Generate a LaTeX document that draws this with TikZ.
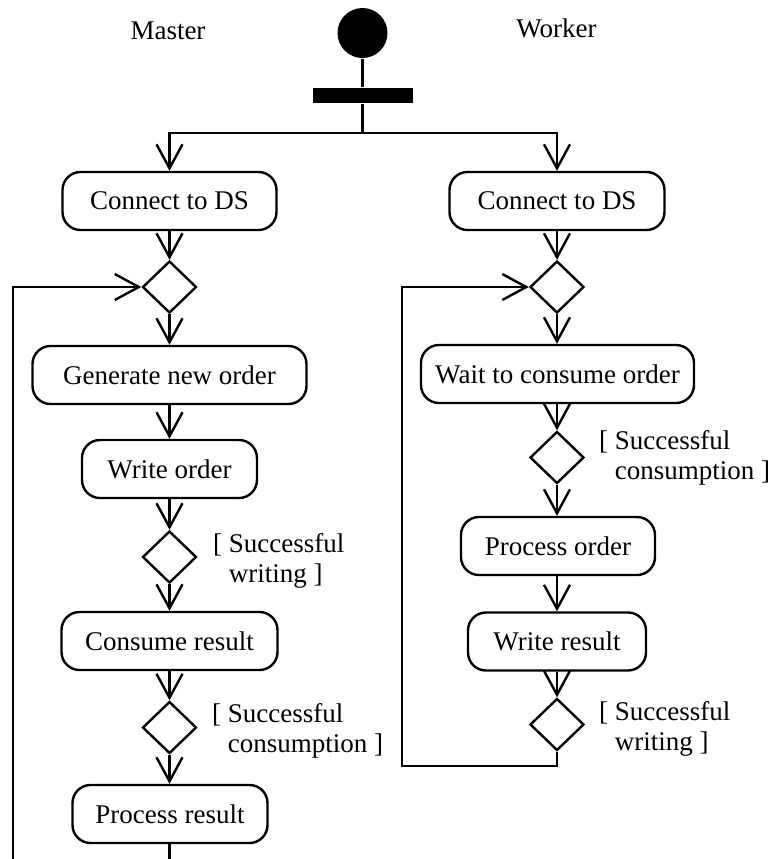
\documentclass[tikz,border=0pt]{standalone}
\usepackage{fontspec}
\setmainfont{Liberation Serif}
\usetikzlibrary{positioning,arrows.meta,shapes.geometric}

\newcommand{\uml}{\fontsize{13.5}{15}\selectfont}

\begin{document}
\begin{tikzpicture}[
      x=0.5pt, y=-0.5pt, line width=1.2pt,
      action/.style={draw, rounded corners=9pt, minimum height=29pt, inner xsep=4pt, font=\uml},
      decision/.style={draw, diamond, minimum width=27pt, minimum height=26pt, inner sep=0pt},
      guard/.style={anchor=west, align=left, inner sep=0pt, font=\uml},
      lane/.style={inner sep=0pt, font=\uml},
      flow/.style={-{Straight Barb[length=12pt, width=13pt]}}
  ]
    \useasboundingbox (0,0) rectangle (772,859);

    % swimlane titles
    \node[lane] (master) at (168,30.5) {Master};
    \node[lane] (worker) at (556.5,28) {Worker};

    % start and fork
    \node[circle, fill=black, minimum size=25pt, inner sep=0pt] (start) at (362.5,33) {};
    \node[fill=black, minimum width=50pt, minimum height=7.5pt, inner sep=0pt] (fork) at (362.5,95.5) {};
    \coordinate (split) at (362.5,133);
    \draw (start) -- (fork);
    \draw (fork) -- (split);

    % master side
    \node[action, minimum width=107pt] (mconn) at (169.5,201) {Connect to DS};
    \node[decision] (mloop) at (169.5,287) {};
    \node[action, minimum width=137pt] (mgen) at (169.5,375) {Generate new order};
    \node[action, minimum width=87.5pt] (mwrite) at (169.5,469) {Write order};
    \node[decision] (mok1) at (169.5,557) {};
    \node[action, minimum width=108pt] (mcons) at (169.5,641) {Consume result};
    \node[decision] (mok2) at (169.5,727.5) {};
    \node[action, minimum width=97.5pt] (mproc) at (170,814) {Process result};
    \node[guard] at (212,561) {[ Successful\\\phantom{[ }writing ]};
    \node[guard] at (211,731) {[ Successful\\\phantom{[ }consumption ]};

    % worker side
    \node[action, minimum width=107.5pt] (wconn) at (557,201) {Connect to DS};
    \node[decision] (wloop) at (557,287) {};
    \node[action, minimum width=136.5pt] (wwait) at (557.5,374) {Wait to consume order};
    \node[decision] (wok1) at (557,457.5) {};
    \node[action, minimum width=97pt] (wproc) at (558,546) {Process order};
    \node[action, minimum width=89pt] (wwrite) at (557,641.5) {Write result};
    \node[decision] (wok2) at (557,724.5) {};
    \node[guard] at (598,457.5) {[ Successful\\\phantom{[ }consumption ]};
    \node[guard] at (598,729) {[ Successful\\\phantom{[ }writing ]};

    \draw[flow] (split) -| (mconn);
    \draw[flow] (split) -| (wconn);

    \draw[flow] (mconn) -- (mloop);
    \draw[flow] (mloop) -- (mgen);
    \draw[flow] (mgen) -- (mwrite);
    \draw[flow] (mwrite) -- (mok1);
    \draw[flow] (mok1) -- (mcons);
    \draw[flow] (mcons) -- (mok2);
    \draw[flow] (mok2) -- (mok2 |- mproc.north);

    \draw[flow] (wconn) -- (wloop);
    \draw[flow] (wloop) -- (wloop |- wwait.north);
    \draw[flow] (wwait.south -| wok1) -- (wok1);
    \draw[flow] (wok1) -- (wok1 |- wproc.north);
    \draw[flow] (wproc.south -| wwrite) -- (wwrite);
    \draw[flow] (wwrite) -- (wok2);

    % loops back
    \coordinate (mback) at (13,890);
    \coordinate (wback) at (402,766);
    \draw[flow] (mproc.south -| mok2) -- (mok2 |- mback) -- (mback) |- (mloop.west);
    \draw[flow] (wok2) |- (wback) |- (wloop.west);
  \end{tikzpicture}
\end{document}
